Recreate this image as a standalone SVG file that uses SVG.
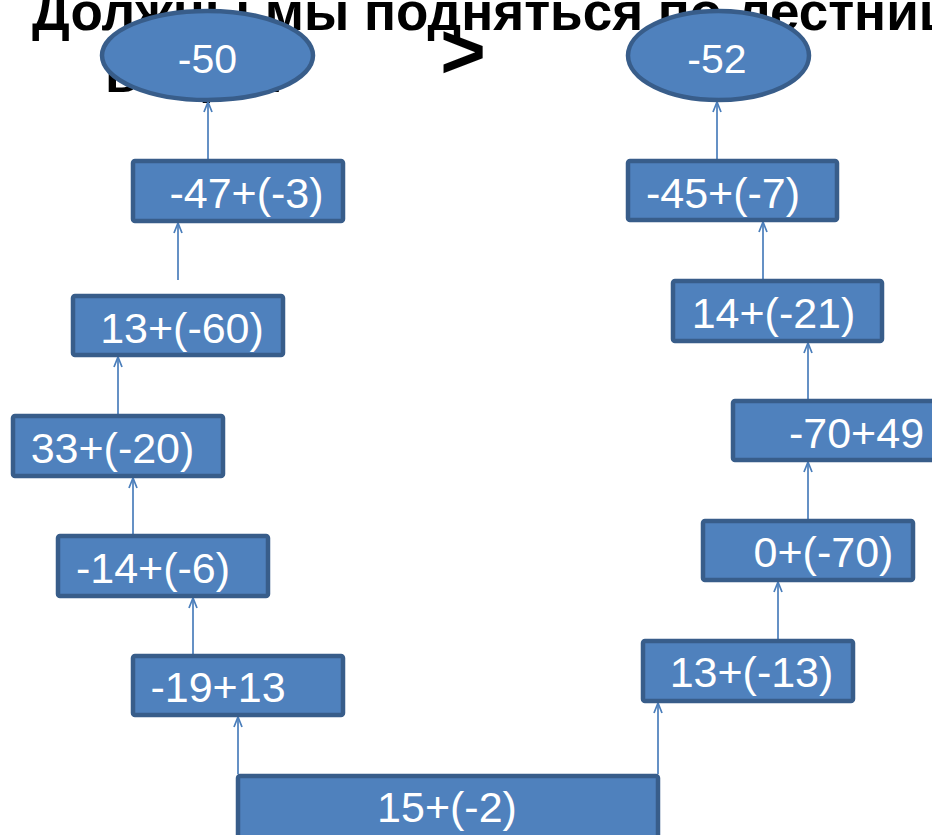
<svg xmlns="http://www.w3.org/2000/svg" width="932" height="835" viewBox="0 0 932 835">
<style>
.title{font-family:"Liberation Sans",Arial,sans-serif;font-weight:bold;font-size:53px;fill:#000}
.gt{font-family:"Liberation Sans",Arial,sans-serif;font-weight:bold;font-size:78px;fill:#000}
.box{fill:#4F81BD;stroke:#385D8A;stroke-width:4.5}
.lbl{font-family:"Liberation Sans",Arial,sans-serif;font-size:43px;fill:#fff;text-anchor:middle}
.elbl{font-family:"Liberation Sans",Arial,sans-serif;font-size:41px;fill:#fff;text-anchor:middle}
.conn line{stroke:#4A7EBB;stroke-width:1.7;fill:none;marker-end:url(#ah)}
</style>
<defs>
<marker id="ah" markerUnits="userSpaceOnUse" markerWidth="14" markerHeight="12" viewBox="-12 -6 14 12" refX="0" refY="0" orient="auto">
<path d="M-10,-4 L0,0 L-10,4" fill="none" stroke="#4A7EBB" stroke-width="1.7"/>
</marker>
</defs>
<rect width="932" height="835" fill="#fff"/>
<g id="title">
<text class="title" x="32" y="30">Должны мы подняться по лестнице</text>
<text class="title" x="105" y="92">вверх?</text>
</g>
<g id="gt"><text class="gt" x="463" y="78" text-anchor="middle">&gt;</text></g>
<g class="conn" id="connectors">
<line x1="238" y1="774" x2="238" y2="717"/>
<line x1="658" y1="774" x2="658" y2="703"/>
<line x1="193" y1="654" x2="193" y2="598"/>
<line x1="133" y1="534" x2="133" y2="478"/>
<line x1="118" y1="414" x2="118" y2="357"/>
<line x1="178" y1="280" x2="178" y2="223"/>
<line x1="208" y1="159" x2="208" y2="102"/>
<line x1="778" y1="639" x2="778" y2="582"/>
<line x1="808" y1="519" x2="808" y2="462"/>
<line x1="808" y1="399" x2="808" y2="343"/>
<line x1="763" y1="280" x2="763" y2="222"/>
<line x1="717" y1="159" x2="717" y2="102"/>
</g>
<g id="n-50"><ellipse class="box" cx="207.5" cy="55.5" rx="105.5" ry="44.5"/><text class="elbl" x="207.5" y="73">-50</text></g>
<g id="n-52"><ellipse class="box" cx="718.5" cy="55.5" rx="90.5" ry="44.5"/><text class="elbl" x="717" y="73">-52</text></g>
<g id="n1"><rect class="box" x="133" y="161" width="210" height="60" rx="2"/><text class="lbl" x="246.5" y="208">-47+(-3)</text></g>
<g id="n2"><rect class="box" x="73" y="296" width="210" height="59" rx="2"/><text class="lbl" x="182" y="343">13+(-60)</text></g>
<g id="n3"><rect class="box" x="13" y="416" width="210" height="60" rx="2"/><text class="lbl" x="112.5" y="463">33+(-20)</text></g>
<g id="n4"><rect class="box" x="58" y="536" width="210" height="60" rx="2"/><text class="lbl" x="153" y="583">-14+(-6)</text></g>
<g id="n5"><rect class="box" x="133" y="656" width="210" height="59" rx="2"/><text class="lbl" x="218" y="702">-19+13</text></g>
<g id="n6"><rect class="box" x="238" y="776" width="420" height="70" rx="2"/><text class="lbl" x="447" y="822">15+(-2)</text></g>
<g id="n7"><rect class="box" x="643" y="641" width="210" height="60" rx="2"/><text class="lbl" x="751.5" y="687">13+(-13)</text></g>
<g id="n8"><rect class="box" x="703" y="521" width="210" height="59" rx="2"/><text class="lbl" x="823.5" y="567">0+(-70)</text></g>
<g id="n9"><rect class="box" x="733" y="401" width="215" height="59" rx="2"/><text class="lbl" x="856.5" y="448">-70+49</text></g>
<g id="n10"><rect class="box" x="673" y="281" width="209" height="60" rx="2"/><text class="lbl" x="773.5" y="328">14+(-21)</text></g>
<g id="n11"><rect class="box" x="628" y="161" width="209" height="59" rx="2"/><text class="lbl" x="723" y="208">-45+(-7)</text></g>
</svg>
